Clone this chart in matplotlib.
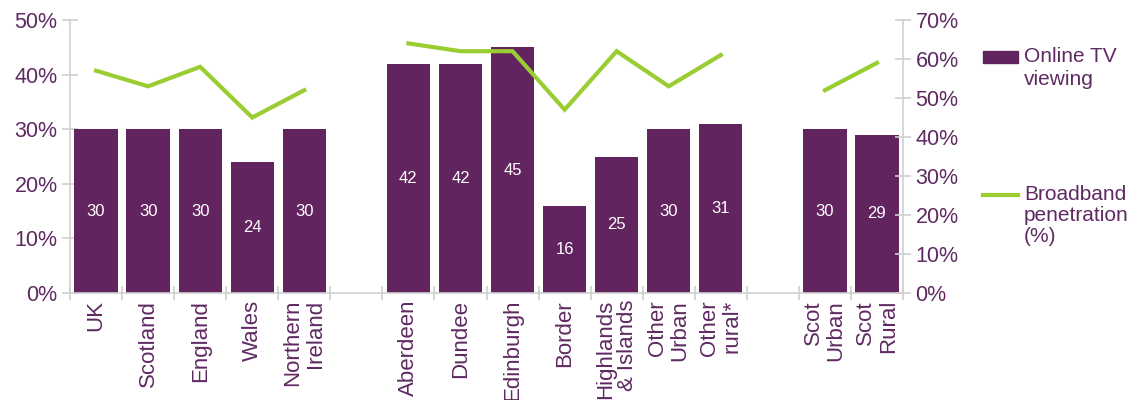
import numpy as np
import matplotlib
matplotlib.use("Agg")
import matplotlib.pyplot as plt
from matplotlib.patches import Rectangle
from matplotlib.lines import Line2D

plt.rcParams["font.family"] = ["Liberation Sans", "DejaVu Sans"]

# categories ('' = empty spacer slot)
categories = ["UK", "Scotland", "England", "Wales", "Northern\nIreland", "",
              "Aberdeen", "Dundee", "Edinburgh", "Border", "Highlands\n& Islands",
              "Other\nUrban", "Other\nrural*", "", "Scot\nUrban", "Scot\nRural"]
online_tv = [30, 30, 30, 24, 30, None, 42, 42, 45, 16, 25, 30, 31, None, 30, 29]
broadband = [57, 53, 58, 45, 52, None, 64, 62, 62, 47, 62, 53, 61, None, 52, 59]

PURPLE = "#62245f"
GREEN = "#9acd32"
TEXT = "#5f2a62"
GREY = "#d0d0d0"

fig = plt.figure(figsize=(11.39, 4.0), dpi=100)
ax = fig.add_axes([70 / 1139, 1 - 293 / 400, 833 / 1139, 273 / 400])
ax2 = ax.twinx()

x = np.arange(len(categories))
tv = np.array([np.nan if v is None else v for v in online_tv], dtype=float)
bb = np.array([np.nan if v is None else v for v in broadband], dtype=float)

ax.bar(x, np.nan_to_num(tv), width=0.83, color=PURPLE, zorder=2)
for xi, v in zip(x, tv):
    if not np.isnan(v):
        ax.text(xi, v / 2, f"{v:.0f}", color="white", ha="center", va="center",
                fontsize=12, zorder=3)

ax2.plot(x, bb, color=GREEN, lw=3, solid_joinstyle="miter", zorder=4)
ax.set_zorder(1)
ax2.set_zorder(2)
ax.patch.set_visible(False)

ax.set_xlim(-0.5, len(categories) - 0.5)
ax.set_ylim(0, 50)
ax2.set_ylim(0, 70)
ax.set_yticks(np.arange(0, 51, 10))
ax.set_yticklabels([f"{v}%" for v in range(0, 51, 10)])
ax2.set_yticks(np.arange(0, 71, 10))
ax2.set_yticklabels([f"{v}%" for v in range(0, 71, 10)])

ax.set_xticks(x)
ax.set_xticklabels(categories, rotation=90, va="top", ha="center",
                   multialignment="right", fontsize=16, color=TEXT, linespacing=1.1)
ax.set_xticks(np.arange(-0.5, len(categories), 1), minor=True)
ax.tick_params(axis="x", which="major", length=0, pad=5)
ax.tick_params(axis="x", which="minor", length=10, direction="inout", color=GREY, width=1.2)

for a in (ax, ax2):
    for s in a.spines.values():
        s.set_visible(False)
for a, side in ((ax, "left"), (ax, "bottom"), (ax2, "right")):
    a.spines[side].set_visible(True)
    a.spines[side].set_color(GREY)
    a.spines[side].set_linewidth(1.2)

for a in (ax, ax2):
    a.tick_params(axis="y", length=12, direction="inout", color=GREY, width=1.2,
                  labelsize=15.5, labelcolor=TEXT, pad=3)

# legend drawn by hand so the key sits on the first text line
W, H = 1139, 400
fig.patches.append(Rectangle((983 / W, 1 - 63 / H), 35 / W, 12 / H,
                             transform=fig.transFigure, color=PURPLE))
fig.text(1024 / W, 1 - 47 / H, "Online TV\nviewing", fontsize=15, color=TEXT,
         va="top", ha="left", linespacing=1.25, transform=fig.transFigure)
fig.lines.append(Line2D([983 / W, 1018 / W], [1 - 195 / H, 1 - 195 / H],
                        transform=fig.transFigure, color=GREEN, lw=3))
fig.text(1024 / W, 1 - 185 / H, "Broadband\npenetration\n(%)", fontsize=15,
         color=TEXT, va="top", ha="left", linespacing=1.15, transform=fig.transFigure)

fig.savefig("out.png", dpi=100)
